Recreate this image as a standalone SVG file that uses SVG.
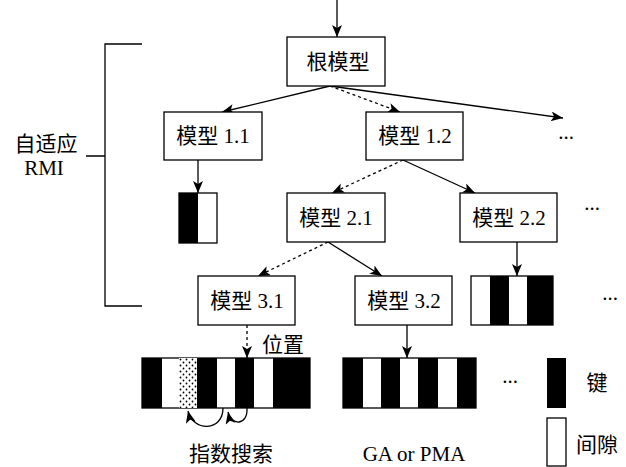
<svg xmlns="http://www.w3.org/2000/svg" width="626" height="467" viewBox="0 0 626 467">
<style>
.box{fill:#fff;stroke:#000;stroke-width:1.3}
.t{font-family:"Liberation Serif","Noto Sans CJK SC",serif;font-size:21px;fill:#000;text-anchor:middle}
.ln{fill:none;stroke:#000;stroke-width:1.3}
.arr{fill:none;stroke:#000;stroke-width:1.3;marker-end:url(#ah)}
.dash{stroke-dasharray:3,3}
.blk{fill:#000}
.bar{fill:#fff;stroke:#000;stroke-width:1.3}
</style>
<defs>
<marker id="ah" markerUnits="userSpaceOnUse" markerWidth="14" markerHeight="12" refX="12" refY="5" orient="auto">
<path d="M0,0 L12,5 L0,10 L3,5 Z" fill="#000"/>
</marker>
<pattern id="dots" patternUnits="userSpaceOnUse" width="6" height="6" x="179" y="358">
<rect width="6" height="6" fill="#fff"/>
<circle cx="1.5" cy="1.5" r="0.9" fill="#000"/>
<circle cx="4.5" cy="4.5" r="0.9" fill="#000"/>
</pattern>
</defs>

<g id="bracket">
<path class="ln" d="M142,44 H105 V306 H142 M86,156 H105"/>
<text class="t" x="46" y="151">自适应</text>
<text class="t" x="44" y="175">RMI</text>
</g>

<g id="connectors">
<line class="arr" x1="337" y1="0" x2="337" y2="37"/>
<line class="arr" x1="330" y1="86" x2="222" y2="112"/>
<line class="arr dash" x1="330" y1="86" x2="400" y2="112"/>
<line class="arr" x1="330" y1="86" x2="563" y2="118"/>
<line class="arr" x1="198" y1="160" x2="198" y2="193"/>
<line class="arr dash" x1="403" y1="160" x2="332" y2="193"/>
<line class="arr" x1="403" y1="160" x2="475" y2="193"/>
<line class="arr dash" x1="328" y1="242" x2="258" y2="276"/>
<line class="arr" x1="328" y1="242" x2="382" y2="276"/>
<line class="arr" x1="517" y1="242" x2="517" y2="276"/>
<line class="arr dash" x1="247" y1="325" x2="247" y2="358"/>
<line class="arr" x1="407" y1="325" x2="407" y2="358"/>
<path class="arr" d="M223,408 C223,432 193,432 188,411"/>
<path class="arr" d="M247,408 C248,426 231,426 228,412"/>
</g>

<g id="root"><rect class="box" x="287" y="37" width="98" height="49"/><text class="t" x="338" y="69">根模型</text></g>
<g id="m11"><rect class="box" x="164" y="112" width="98" height="48"/><text class="t" x="213" y="143">模型 1.1</text></g>
<g id="m12"><rect class="box" x="366" y="112" width="97" height="48"/><text class="t" x="415" y="143">模型 1.2</text></g>
<g id="m21"><rect class="box" x="287" y="193" width="98" height="49"/><text class="t" x="336" y="225">模型 2.1</text></g>
<g id="m22"><rect class="box" x="460" y="193" width="97" height="49"/><text class="t" x="509" y="225">模型 2.2</text></g>
<g id="m31"><rect class="box" x="198" y="276" width="97" height="49"/><text class="t" x="247" y="308">模型 3.1</text></g>
<g id="m32"><rect class="box" x="355" y="276" width="97" height="49"/><text class="t" x="404" y="308">模型 3.2</text></g>

<g id="bar11">
<rect class="bar" x="179" y="193" width="38" height="50"/>
<rect class="blk" x="179" y="193" width="19" height="50"/>
</g>

<g id="bar22">
<rect class="bar" x="471" y="276" width="82" height="49"/>
<rect class="blk" x="490" y="276" width="19" height="49"/>
<rect class="blk" x="527" y="276" width="26" height="49"/>
</g>

<g id="bar31">
<rect class="bar" x="142" y="358" width="168" height="50"/>
<rect class="blk" x="142" y="358" width="20" height="50"/>
<rect x="179" y="358" width="18" height="50" fill="url(#dots)"/>
<rect class="blk" x="197" y="358" width="20" height="50"/>
<rect class="blk" x="235" y="358" width="19" height="50"/>
<rect class="blk" x="273" y="358" width="37" height="50"/>
</g>

<g id="bar32">
<rect class="bar" x="343" y="358" width="133" height="50"/>
<rect class="blk" x="343" y="358" width="20" height="50"/>
<rect class="blk" x="381" y="358" width="19" height="50"/>
<rect class="blk" x="418" y="358" width="20" height="50"/>
<rect class="blk" x="457" y="358" width="19" height="50"/>
</g>

<g id="legend">
<rect class="blk" x="547" y="358" width="19" height="50"/>
<text class="t" x="597" y="390">键</text>
<rect class="bar" x="547" y="418" width="19" height="48"/>
<text class="t" x="597" y="452">间隙</text>
</g>

<g id="labels">
<text class="t" x="283" y="352">位置</text>
<text class="t" x="231" y="461">指数搜索</text>
<text class="t" x="414" y="461">GA or PMA</text>
<text class="t" x="566" y="139">...</text>
<text class="t" x="592" y="210">...</text>
<text class="t" x="610" y="300">...</text>
<text class="t" x="510" y="383">...</text>
</g>
</svg>
